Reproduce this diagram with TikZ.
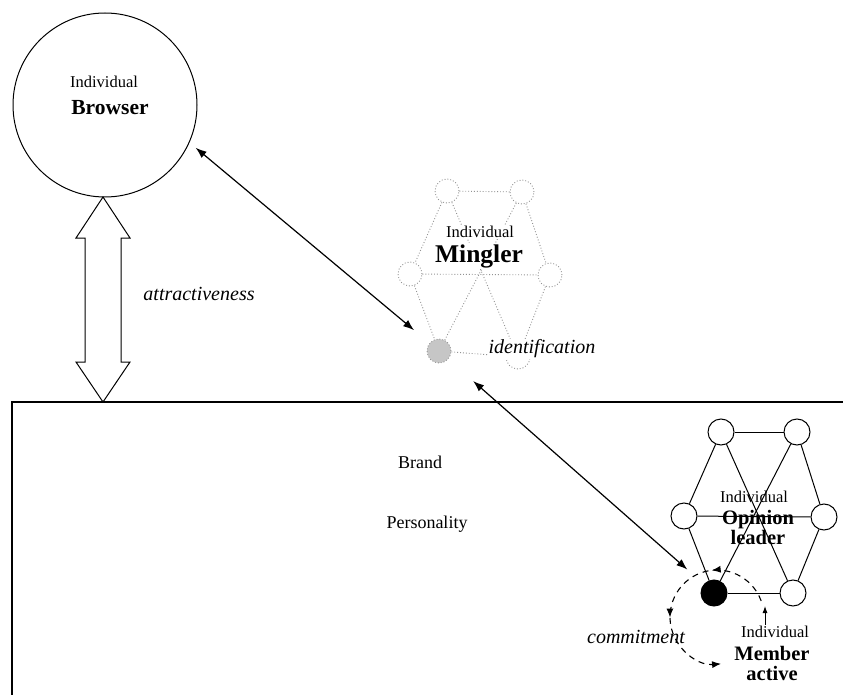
\documentclass[tikz,border=0pt]{standalone}
\usepackage{fontspec}
\setmainfont{Liberation Serif}
\usetikzlibrary{arrows.meta, decorations.markings, backgrounds}

\tikzset{
    mgnode/.style={circle, draw=gray!85, dotted, line width=0.9pt, fill=white, minimum size=24pt, inner sep=0pt},
    mgedge/.style={draw=gray!85, dotted, line width=0.9pt},
    olnode/.style={circle, draw, line width=1pt, fill=white, minimum size=26pt, inner sep=0pt},
    oledge/.style={line width=1pt},
    indiv/.style={font=\fontsize{16.5}{18}\selectfont, inner sep=1pt},
    rolebig/.style={font=\fontsize{20.5}{20}\selectfont\bfseries, align=center, inner sep=1pt},
    relabel/.style={font=\fontsize{20}{22}\selectfont\itshape, inner sep=1pt},
    brandtext/.style={font=\fontsize{18}{20}\selectfont},
    link/.style={{Latex[length=11pt,width=8pt]}-{Latex[length=11pt,width=8pt]}, line width=1.2pt},
    commit/.style={dash pattern=on 6pt off 5pt, line width=1.1pt, -{Latex[length=9pt,width=7pt]},
        postaction={decorate},
        decoration={markings,
            mark=at position 0.3 with {\arrow{Latex[length=9pt,width=7pt]}},
            mark=at position 0.63 with {\arrow{Latex[length=9pt,width=7pt]}}}}
}

\begin{document}
\begin{tikzpicture}[x=1pt, y=-1pt]

    % Frame of the reference (pixels, y down)
    \useasboundingbox (0,0) rectangle (843,695);

    % Brand personality box, runs off the page
    \draw[line width=1.6pt] (843,402) -- (12,402) -- (12,695);
    \node[brandtext] (brand) at (420,462) {Brand};
    \node[brandtext] (personality) at (427,524) {Personality};

    % Browser
    \node[circle, draw, line width=1pt, minimum size=184pt, inner sep=0pt] (browser) at (105,105) {};
    \node[indiv] (brind) at (104,82) {Individual};
    \node[rolebig, font=\fontsize{21.5}{22}\selectfont\bfseries] (brrole) at (110,108) {Browser};

    % Hollow double arrow: browser <-> brand
    \draw[line width=1pt, fill=white] (103,197) -- (130,238) -- (121,238) -- (121,362)
        -- (130,362) -- (103,402) -- (76,362) -- (85,362) -- (85,238) -- (76,238) -- cycle;
    \node[relabel] (attr) at (199,294) {attractiveness};

    % Mingler: dotted grey network
    \node[mgnode] (mg1) at (447,191) {};
    \node[mgnode] (mg2) at (522,192) {};
    \node[mgnode] (mg3) at (410,274) {};
    \node[mgnode] (mg4) at (550,275) {};
    \node[mgnode, fill=gray!45] (mg5) at (439,351) {};
    \node[mgnode] (mg6) at (518,357) {};
    \begin{scope}[on background layer]
        \foreach \a/\b in {1/2,1/3,2/4,3/4,3/5,4/6,5/6,1/6,2/5}
            \draw[mgedge] (mg\a) -- (mg\b);
    \end{scope}
    \node[indiv, fill=white] (mgind) at (480,232) {Individual};
    \node[rolebig, fill=white, font=\fontsize{25.5}{26}\selectfont\bfseries] (mgrole) at (479,256) {Mingler};
    \node[relabel, fill=white] (ident) at (542,349) {identification};

    % Opinion leader: solid network
    \node[olnode] (ol1) at (721,432) {};
    \node[olnode] (ol2) at (797,432) {};
    \node[olnode] (ol3) at (684,516) {};
    \node[olnode] (ol4) at (824,517) {};
    \node[olnode, fill=black] (ol5) at (714,593) {};
    \node[olnode] (ol6) at (793,593) {};
    \begin{scope}[on background layer]
        \foreach \a/\b in {1/2,1/3,2/4,3/4,3/5,4/6,5/6,1/6,2/5}
            \draw[oledge] (ol\a) -- (ol\b);
    \end{scope}
    \node[indiv] (olind) at (754,497) {Individual};
    \node[rolebig] (olrole) at (758,527) {Opinion\\leader};

    % Active member
    \node[indiv] (memind) at (775,632) {Individual};
    \node[rolebig] (memrole) at (772,663) {Member\\active};
    \coordinate (uptip) at (765,606);
    \draw[-{Latex[length=7pt,width=5pt]}, line width=0.9pt] (uptip |- memind.north) -- (uptip);

    % Commitment cycle round the member
    \coordinate (cyc) at (717,617);
    \draw[commit] ([shift={(-20:47)}]cyc) arc[start angle=-20, end angle=-275, radius=47];
    \node[relabel] (commit) at (636,637) {commitment};

    % Links between the roles
    \draw[link, shorten <=8pt, shorten >=20pt] (browser.-24) -- (mg5);
    \draw[link, shorten <=33pt, shorten >=22pt] (mg5) -- (ol5);

\end{tikzpicture}
\end{document}
